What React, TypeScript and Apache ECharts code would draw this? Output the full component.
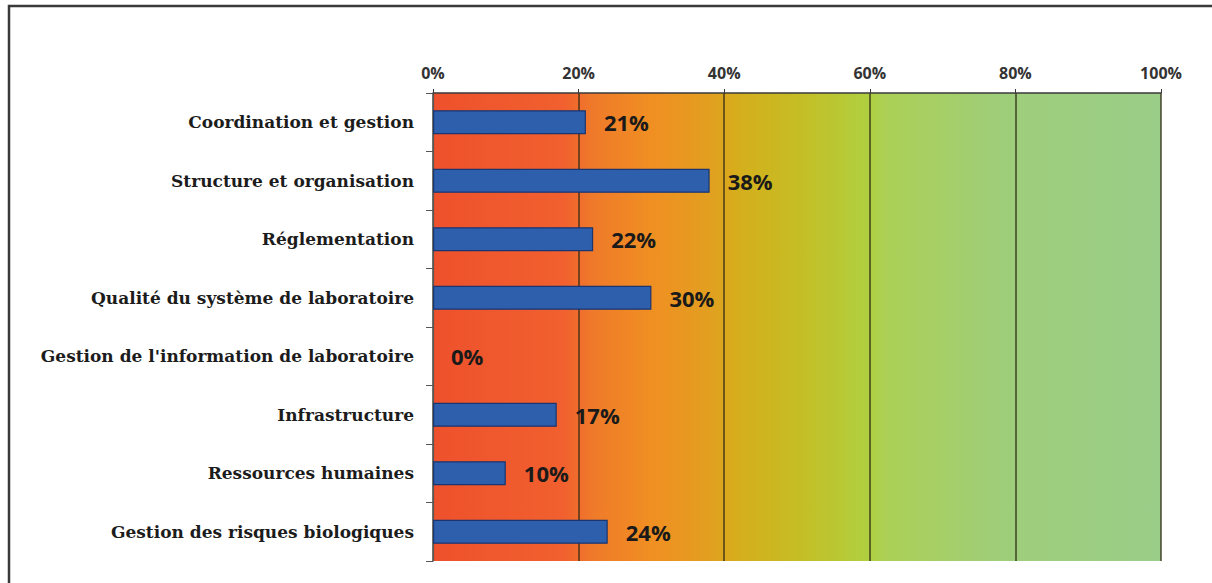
import React, { useEffect, useRef } from "react";
import * as echarts from "echarts";

// Laboratory system assessment scores, one bar per domain
const categories: string[] = [
  "Coordination et gestion",
  "Structure et organisation",
  "Réglementation",
  "Qualité du système de laboratoire",
  "Gestion de l'information de laboratoire",
  "Infrastructure",
  "Ressources humaines",
  "Gestion des risques biologiques",
];
const scores: number[] = [21, 38, 22, 30, 0, 17, 10, 24];
const axisTicks: number[] = [0, 20, 40, 60, 80, 100];

export default function App() {
  const ref = useRef<HTMLDivElement>(null);

  useEffect(() => {
    if (!ref.current) return;
    const chart = echarts.init(ref.current, null, { renderer: "svg" });

    // red → orange → yellow → green band behind the bars
    const backdrop = new echarts.graphic.LinearGradient(0, 0, 1, 0, [
      { offset: 0, color: "#EE512C" },
      { offset: 0.18, color: "#F1602E" },
      { offset: 0.22, color: "#EF7A2A" },
      { offset: 0.3, color: "#F08F22" },
      { offset: 0.38, color: "#E29F20" },
      { offset: 0.42, color: "#D5AE1C" },
      { offset: 0.5, color: "#C6BD24" },
      { offset: 0.6, color: "#AFD040" },
      { offset: 0.62, color: "#ACD055" },
      { offset: 0.78, color: "#9FCE7A" },
      { offset: 1, color: "#9ACD88" },
    ]);

    // a zero score leaves no visible bar (no outline either)
    const barData = scores.map((v) =>
      v === 0 ? { value: v, itemStyle: { borderWidth: 0 } } : { value: v }
    );

    chart.setOption({
      animation: false,
      backgroundColor: "#ffffff",
      graphic: [
        {
          type: "polyline",
          shape: { points: [[9, 583], [9, 6], [1212, 6]] },
          style: { stroke: "#3a3a3a", lineWidth: 2.5, fill: "none" },
          silent: true,
        },
      ],
      grid: {
        left: 433,
        top: 93,
        width: 728,
        height: 468,
        show: true,
        backgroundColor: backdrop,
        borderWidth: 0,
      },
      xAxis: {
        type: "value",
        position: "top",
        min: axisTicks[0],
        max: axisTicks[axisTicks.length - 1],
        interval: 20,
        axisLine: { show: true, lineStyle: { color: "#3a3a3a", width: 1.5 } },
        axisTick: { show: true, length: 4, lineStyle: { color: "#3a3a3a" } },
        axisLabel: {
          formatter: "{value}%",
          margin: 12,
          fontFamily: "Open Sans",
          fontWeight: "bold",
          fontSize: 16,
          color: "#333333",
        },
        splitLine: {
          show: true,
          lineStyle: { color: "rgba(45,40,20,0.85)", width: 1.5 },
        },
      },
      yAxis: {
        type: "category",
        inverse: true,
        data: categories,
        axisLine: { show: true, lineStyle: { color: "#555555", width: 1.2 } },
        axisTick: { show: true, length: 7, lineStyle: { color: "#555555" } },
        axisLabel: {
          margin: 19,
          fontFamily: "DejaVu Serif",
          fontWeight: "bold",
          fontSize: 17,
          color: "#1c1c1c",
        },
        splitLine: { show: false },
      },
      series: [
        {
          type: "bar",
          data: barData,
          barWidth: 24,
          itemStyle: {
            color: "#2E5FAD",
            borderColor: "#1A3570",
            borderWidth: 1.2,
          },
          label: {
            show: true,
            position: "right",
            distance: 18,
            formatter: "{c}%",
            fontFamily: "Open Sans",
            fontWeight: "bold",
            fontSize: 22,
            color: "#1a1a1a",
          },
        },
      ],
    });

    return () => chart.dispose();
  }, []);

  return (
    <div
      ref={ref}
      style={{ position: "fixed", left: 0, top: 0, width: 1212, height: 583 }}
    />
  );
}
